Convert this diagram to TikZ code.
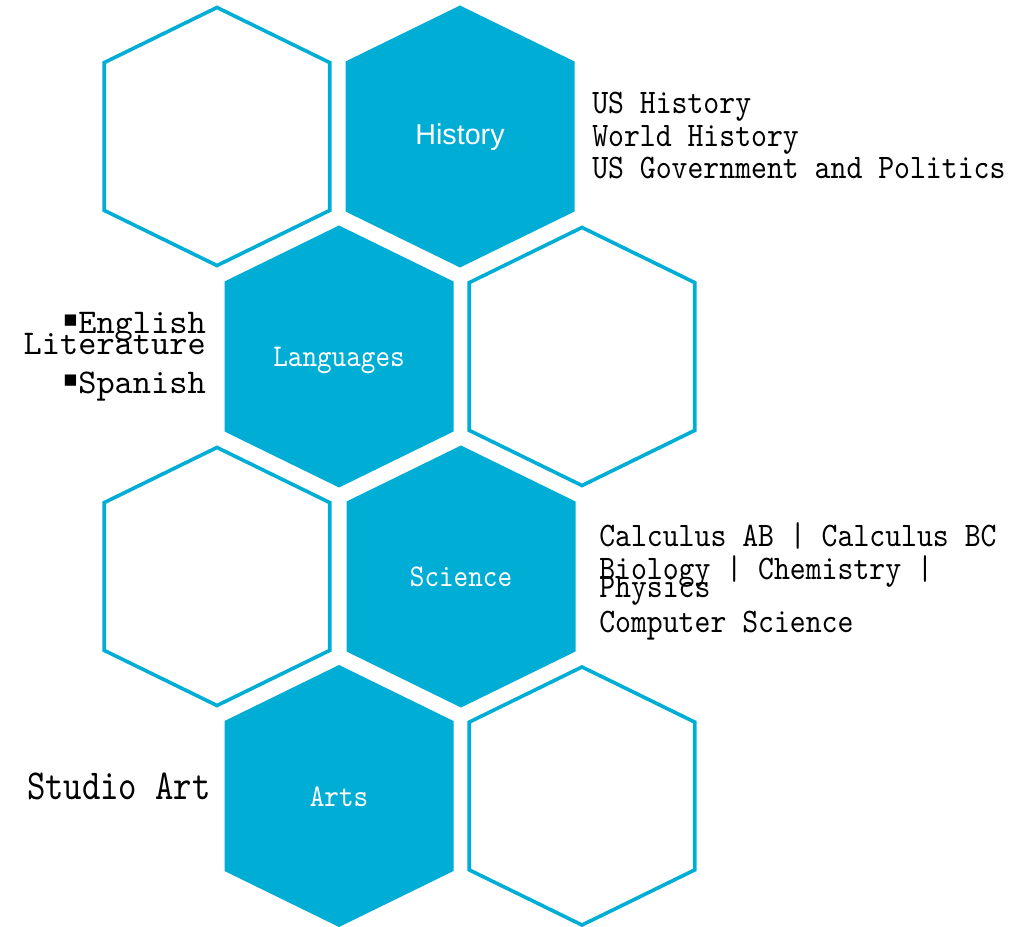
\documentclass[tikz,border=0pt]{standalone}
\usepackage{fontspec}
\setmainfont{Liberation Serif}
\newfontfamily\courseface[FakeStretch=0.88]{lmmono10-regular.otf}
\newfontfamily\wideface{lmmono10-regular.otf}
\newfontfamily\tallface[FakeStretch=0.82]{lmmono10-regular.otf}
\newfontfamily\headface{Liberation Sans}
\newfontfamily\symface{DejaVu Sans}
\newcommand{\sqbullet}{\raisebox{5.5pt}{\symface\fontsize{17pt}{17pt}\selectfont ▪}}
\definecolor{cellblue}{HTML}{00ADD5}
\definecolor{dark}{HTML}{000000}
\tikzset{
    % Hexagon cell, pointy top
    pics/hexcell/.style={
        code={
            \path[pic actions] (0,-131) -- (114.5,-75) -- (114.5,75)
                -- (0,131) -- (-114.5,75) -- (-114.5,-75) -- cycle;
        }
    },
    % Filled subject cell
    hex solid/.style={
        fill=cellblue
    },
    % Empty framed cell
    hex frame/.style={
        draw=cellblue,
        line width=2.7pt,
        scale=0.985
    },
    % Subject name inside a cell
    hex label/.style={
        font=\courseface\fontsize{23.7pt}{22pt}\selectfont,
        text=white,
        inner sep=0pt
    },
    % Course lists beside the cells
    course list/.style={
        font=\courseface\fontsize{25.8pt}{24.4pt}\selectfont,
        text=dark,
        inner sep=0pt,
        align=left
    },
    course left/.style={
        font=\wideface\fontsize{26pt}{26.5pt}\selectfont,
        text=dark,
        inner sep=0pt,
        align=right
    }
}
\begin{document}
\begin{tikzpicture}[x=0.75pt, y=-0.75pt]
    \useasboundingbox (0,0) rectangle (1029,927);

    % Cells, row by row
    \pic[hex frame] at (217,136.5) {hexcell};
    \pic[hex solid] at (460,136.5) {hexcell};
    \pic[hex solid] at (339,356.5) {hexcell};
    \pic[hex frame] at (582,356.5) {hexcell};
    \pic[hex frame] at (217,576.5) {hexcell};
    \pic[hex solid] at (461,576.5) {hexcell};
    \pic[hex solid] at (339,796) {hexcell};
    \pic[hex frame] at (582,796) {hexcell};

    % Subject names
    \node[hex label, font=\headface\fontsize{21.5pt}{22pt}\selectfont, anchor=base] (hist) at (460,145) {History};
    \node[hex label, anchor=base] (lang) at (339,367) {Languages};
    \node[hex label, anchor=base] (sci) at (461,586) {Science};
    \node[hex label, anchor=base] (arts) at (339,806) {Arts};

    % Courses
    \node[course list, anchor=north west] (histlist) at (592,92) {US History\\World History\\US Government and Politics};
    \node[course list, anchor=north west] (scilist) at (599,522.5) {Calculus AB | Calculus BC\\Biology | Chemistry |\\[-10.5pt]Physics\\[1.5pt]Computer Science};
    \node[course left, anchor=north east] (langlist) at (206,312) {\sqbullet English\\[-10.75pt]Literature\\[2.75pt]\sqbullet Spanish};
    \node[course left, font=\tallface\fontsize{32pt}{32pt}\selectfont, anchor=base east] (artslist) at (211,799) {Studio Art};

\end{tikzpicture}
\end{document}
